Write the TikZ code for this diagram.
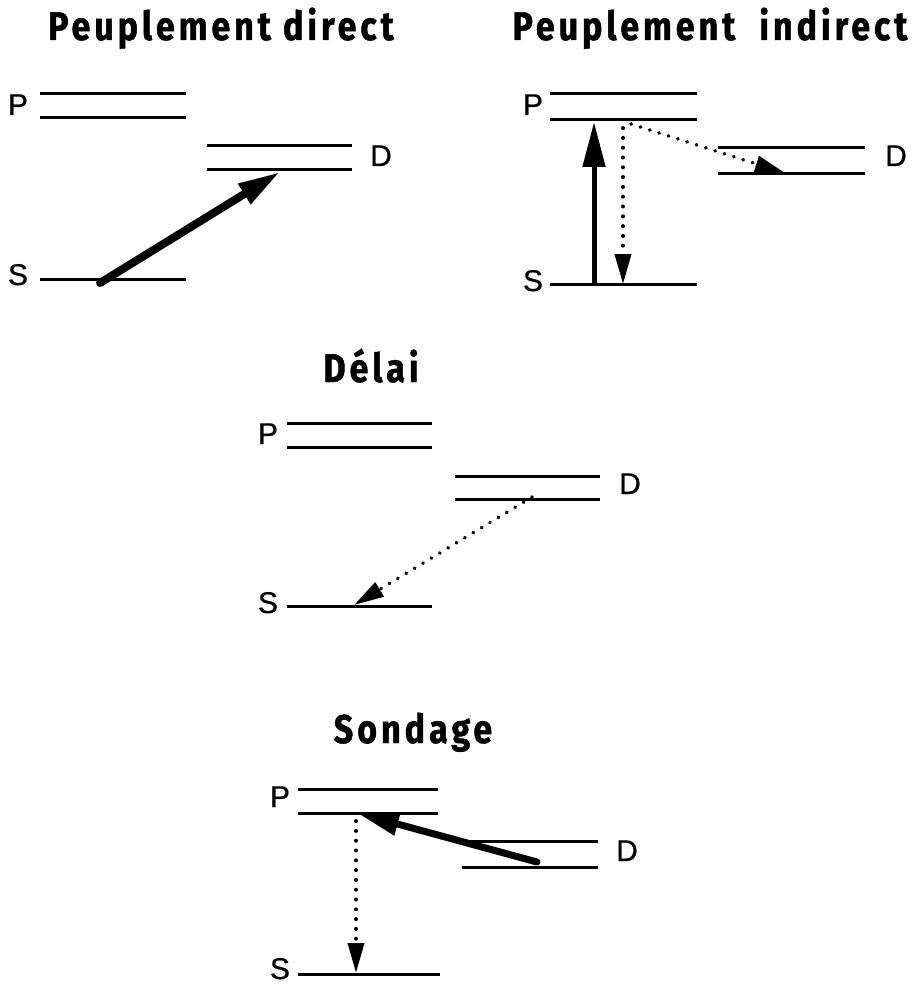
\documentclass[tikz,border=0pt]{standalone}
\usepackage{fontspec}
\setmainfont{Liberation Sans}
\newfontfamily\titlefont[FakeStretch=0.85,LetterSpace=10,FakeBold=1.2]{Fira Sans}
\newfontfamily\lblfont[FakeBold=0.6]{Liberation Sans}
\usetikzlibrary{arrows.meta}
\tikzset{
  level/.style={line width=3pt},
  lbl/.style={font=\lblfont\fontsize{30}{30}\selectfont, anchor=base, inner sep=0pt},
  ttl/.style={font=\titlefont\bfseries\fontsize{40}{40}\selectfont, anchor=base, inner sep=0pt},
  thick arrow/.style={line width=#1, line cap=round, -{Triangle[length=42pt,width=22pt]}},
  dotted arrow/.style={line width=3.8pt, line cap=round, dash pattern=on 0.2pt off 9.6pt, -{Triangle[length=30pt,width=16pt]}},
}
\begin{document}
\begin{tikzpicture}[x=1pt,y=-1pt]
\useasboundingbox (0,0) rectangle (922,984);

% ---------- Panel 1 : Peuplement direct ----------
\node[ttl] (t1) at (221,40) {Peuplement direct};
\coordinate (p1a) at (40,94);  \coordinate (p1b) at (186,94);
\coordinate (p1c) at (40,118); \coordinate (p1d) at (186,118);
\coordinate (d1a) at (207,146); \coordinate (d1b) at (352,146);
\coordinate (d1c) at (207,170); \coordinate (d1d) at (352,170);
\coordinate (s1a) at (40,279); \coordinate (s1b) at (186,279);
\draw[level] (p1a) -- (p1b); \draw[level] (p1c) -- (p1d);
\draw[level] (d1a) -- (d1b); \draw[level] (d1c) -- (d1d);
\draw[level] (s1a) -- (s1b);
\node[lbl] (P1) at (18,115) {P};
\node[lbl] (S1) at (18,285) {S};
\node[lbl] (D1) at (381,166) {D};
\coordinate (a1s) at (100,283); \coordinate (a1e) at (280,172);
\draw[thick arrow=8pt] (a1s) -- (a1e);

% ---------- Panel 2 : Peuplement indirect ----------
\node[ttl] (t2) at (710,40) {Peuplement\ \ indirect};
\coordinate (p2a) at (550,94);  \coordinate (p2b) at (697,94);
\coordinate (p2c) at (550,120); \coordinate (p2d) at (697,120);
\coordinate (d2a) at (718,148); \coordinate (d2b) at (865,148);
\coordinate (d2c) at (718,174); \coordinate (d2d) at (865,174);
\coordinate (s2a) at (550,284); \coordinate (s2b) at (697,284);
\draw[level] (p2a) -- (p2b); \draw[level] (p2c) -- (p2d);
\draw[level] (d2a) -- (d2b); \draw[level] (d2c) -- (d2d);
\draw[level] (s2a) -- (s2b);
\node[lbl] (P2) at (533,115) {P};
\node[lbl] (S2) at (533,291) {S};
\node[lbl] (D2) at (896,166) {D};
\coordinate (a2s) at (594,284); \coordinate (a2e) at (594,122);
\draw[line width=5pt, -{Triangle[length=45pt,width=22pt]}] (a2s) -- (a2e);
\coordinate (b2s) at (623,128); \coordinate (b2e) at (623,284);
\draw[dotted arrow] (b2s) -- (b2e);
\coordinate (c2s) at (631,124); \coordinate (c2e) at (785,173);
\draw[dotted arrow] (c2s) -- (c2e);

% ---------- Panel 3 : Délai ----------
\node[ttl] (t3) at (371,382) {Délai};
\coordinate (p3a) at (287,423);  \coordinate (p3b) at (432,423);
\coordinate (p3c) at (287,447); \coordinate (p3d) at (432,447);
\coordinate (d3a) at (455,476); \coordinate (d3b) at (600,476);
\coordinate (d3c) at (455,499); \coordinate (d3d) at (600,499);
\coordinate (s3a) at (287,606); \coordinate (s3b) at (432,606);
\draw[level] (p3a) -- (p3b); \draw[level] (p3c) -- (p3d);
\draw[level] (d3a) -- (d3b); \draw[level] (d3c) -- (d3d);
\draw[level] (s3a) -- (s3b);
\node[lbl] (P3) at (268,444) {P};
\node[lbl] (S3) at (268,613) {S};
\node[lbl] (D3) at (630,494) {D};
\coordinate (a3s) at (532,497); \coordinate (a3e) at (354,605);
\draw[dotted arrow] (a3s) -- (a3e);

% ---------- Panel 4 : Sondage ----------
\node[ttl] (t4) at (413,743) {Sondage};
\coordinate (p4a) at (298,789);  \coordinate (p4b) at (438,789);
\coordinate (p4c) at (298,813); \coordinate (p4d) at (438,813);
\coordinate (d4a) at (462,841); \coordinate (d4b) at (598,841);
\coordinate (d4c) at (462,867); \coordinate (d4d) at (598,867);
\coordinate (s4a) at (298,974); \coordinate (s4b) at (440,974);
\draw[level] (p4a) -- (p4b); \draw[level] (p4c) -- (p4d);
\draw[level] (d4a) -- (d4b); \draw[level] (d4c) -- (d4d);
\draw[level] (s4a) -- (s4b);
\node[lbl] (P4) at (280,807) {P};
\node[lbl] (S4) at (280,979) {S};
\node[lbl] (D4) at (627,861) {D};
\coordinate (a4s) at (537,862); \coordinate (a4e) at (357,813);
\draw[thick arrow=7pt] (a4s) -- (a4e);
\coordinate (b4s) at (356,821); \coordinate (b4e) at (356,973);
\draw[dotted arrow] (b4s) -- (b4e);
\end{tikzpicture}
\end{document}
